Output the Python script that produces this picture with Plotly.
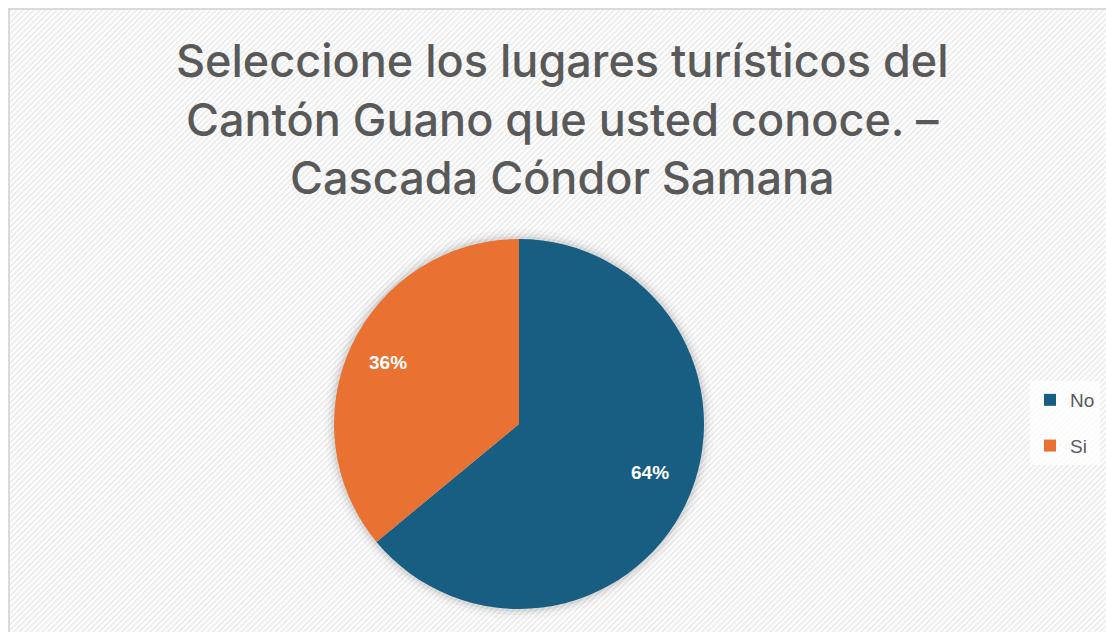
import numpy as np
import plotly.graph_objects as go

categorias = ["No", "Si"]
porcentajes = [64, 36]
colores = ["#175e82", "#e97132"]
titulo = "Seleccione los lugares turísticos del<br>Cantón Guano que usted conoce. –<br>Cascada Cóndor Samana"

ANCHO, ALTO = 1106, 632
GRIS = "#595959"
CX, CY, R = 519, 424, 185  # centro y radio de la torta en pixeles

# fondo rayado como en el grafico original (patron svg)
rayas = (
    "data:image/svg+xml;utf8,"
    "<svg xmlns='http://www.w3.org/2000/svg' width='1100' height='630'>"
    "<defs><pattern id='p' width='4' height='4' patternUnits='userSpaceOnUse' patternTransform='rotate(45)'>"
    "<rect width='4' height='4' fill='%23ffffff'/><rect width='2' height='4' fill='%23ededed'/>"
    "</pattern></defs><rect width='1100' height='630' fill='url(%23p)'/></svg>"
)

fig = go.Figure()

# sombra suave alrededor de la torta
for extra, alfa in [(10, 0.025), (6, 0.04), (3, 0.06)]:
    fig.add_pie(
        values=[1],
        labels=["sombra"],
        marker={"colors": [f"rgba(0,0,0,{alfa})"]},
        textinfo="none",
        hoverinfo="skip",
        showlegend=False,
        sort=False,
        domain={
            "x": [(CX - R - extra) / ANCHO, (CX + R + extra) / ANCHO],
            "y": [1 - (CY + R + extra) / ALTO, 1 - (CY - R - extra) / ALTO],
        },
    )

fig.add_pie(
    labels=categorias,
    values=porcentajes,
    marker={"colors": colores},
    sort=False,
    direction="clockwise",
    rotation=0,
    textinfo="none",
    showlegend=False,
    domain={"x": [(CX - R) / ANCHO, (CX + R) / ANCHO], "y": [1 - (CY + R) / ALTO, 1 - (CY - R) / ALTO]},
    hoverinfo="label+percent",
)

# leyenda con separacion entre elementos
for nombre, color in zip(categorias, colores):
    fig.add_scatter(
        x=[None],
        y=[None],
        mode="markers",
        name=nombre,
        legendgroup=nombre,
        marker={"symbol": "square", "size": 12, "color": color},
    )

# etiquetas de porcentaje en el punto medio de cada porcion
total = sum(porcentajes)
acumulado = 0
anotaciones = []
for valor in porcentajes:
    medio = (acumulado + valor / 2) / total * 2 * np.pi
    acumulado += valor
    px = CX + 0.78 * R * np.sin(medio)
    py = CY - 0.78 * R * np.cos(medio)
    anotaciones.append(
        {
            "text": f"<b>{valor / total:.0%}</b>",
            "x": px / ANCHO,
            "y": 1 - py / ALTO,
            "xref": "paper",
            "yref": "paper",
            "showarrow": False,
            "font": {"color": "#ffffff", "size": 19, "family": "Liberation Sans"},
        }
    )

anotaciones.append(
    {
        "text": titulo,
        "x": 562 / ANCHO,
        "y": 1 - 119 / ALTO,
        "xref": "paper",
        "yref": "paper",
        "xanchor": "center",
        "yanchor": "middle",
        "showarrow": False,
        "font": {"size": 45, "color": GRIS, "family": "Inter, Noto Sans, sans-serif", "weight": 500},
    }
)

fig.update_layout(
    width=ANCHO,
    height=ALTO,
    paper_bgcolor="#ffffff",
    plot_bgcolor="rgba(0,0,0,0)",
    margin={"l": 0, "r": 0, "t": 0, "b": 0},
    font={"family": "Liberation Sans", "color": GRIS},
    xaxis={"visible": False},
    yaxis={"visible": False},
    annotations=anotaciones,
    legend={
        "x": 1030 / ANCHO,
        "xanchor": "left",
        "y": 1 - 423 / ALTO,
        "yanchor": "middle",
        "font": {"size": 19, "color": GRIS, "family": "Liberation Sans"},
        "tracegroupgap": 18,
        "itemwidth": 30,
        "bgcolor": "rgba(255,255,255,0.75)",
    },
    images=[
        {
            "source": rayas,
            "xref": "paper",
            "yref": "paper",
            "x": 10 / ANCHO,
            "y": 1 - 10 / ALTO,
            "sizex": 1,
            "sizey": 1,
            "sizing": "stretch",
            "layer": "below",
        }
    ],
    shapes=[
        {
            "type": "rect",
            "xref": "paper",
            "yref": "paper",
            "x0": 9 / ANCHO,
            "x1": 1.02,
            "y0": -0.02,
            "y1": 1 - 9 / ALTO,
            "line": {"color": "#d9d9d9", "width": 2},
            "layer": "below",
        }
    ],
)

fig.write_html(
    "out.html",
    config={"displayModeBar": False},
    post_script="document.body.style.margin='0px';",
)
